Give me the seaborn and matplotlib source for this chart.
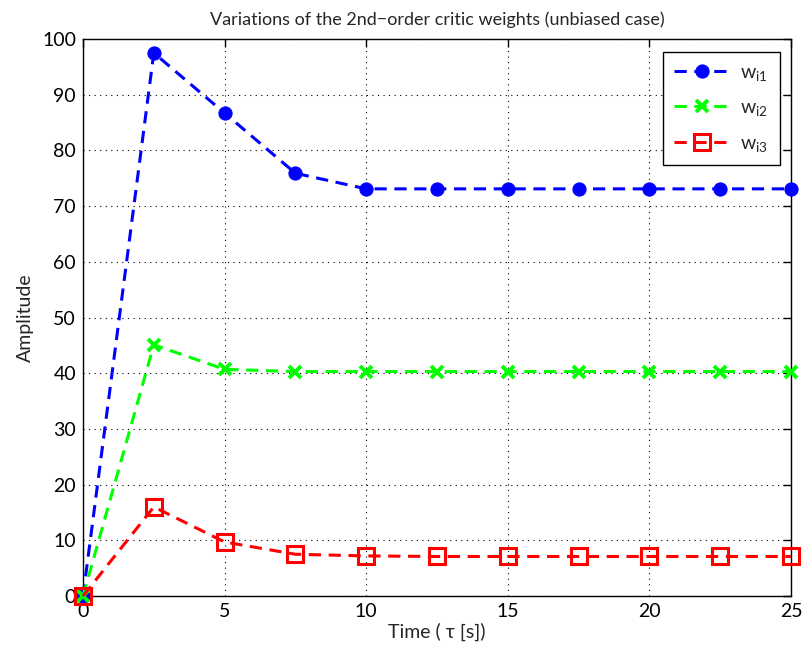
import matplotlib
matplotlib.use("Agg")
import matplotlib.pyplot as plt
import seaborn as sns
import pandas as pd

time = [0, 2.5, 5, 7.5, 10, 12.5, 15, 17.5, 20, 22.5, 25]
w_i1 = [0, 97.5, 86.7, 75.9, 73.1, 73.1, 73.1, 73.1, 73.1, 73.1, 73.1]
w_i2 = [0, 45.1, 40.7, 40.3, 40.3, 40.3, 40.3, 40.3, 40.3, 40.3, 40.3]
w_i3 = [0, 16.0, 9.7, 7.5, 7.2, 7.1, 7.1, 7.1, 7.1, 7.1, 7.1]
labels = [r"$\mathregular{w_{i1}}$", r"$\mathregular{w_{i2}}$", r"$\mathregular{w_{i3}}$"]
xticks = [0, 5, 10, 15, 20, 25]
yticks = list(range(0, 101, 10))

sns.set_theme(style="white")
plt.rcParams['font.family'] = ['Lato', 'DejaVu Sans']
plt.rcParams['mathtext.fontset'] = 'custom'
plt.rcParams['mathtext.rm'] = 'Lato'

fig = plt.figure(figsize=(8.02, 6.57), dpi=100)
ax = fig.add_axes([0.1035, 0.0928, 0.8828, 0.8478])

styles = [
    dict(color="#0000ff", marker="o", markersize=9.5, markerfacecolor="#0000ff", markeredgecolor="#0000ff"),
    dict(color="#00ff00", marker="x", markersize=8.5, markeredgewidth=2.8, markeredgecolor="#00ff00"),
    dict(color="#ff0000", marker="s", markersize=11, markerfacecolor="none", markeredgewidth=2.2, markeredgecolor="#ff0000"),
]
for vals, lab, st in zip([w_i1, w_i2, w_i3], labels, styles):
    df = pd.DataFrame({"t": time, "v": vals})
    sns.lineplot(data=df, x="t", y="v", ax=ax, label=lab, linewidth=2.2,
                 dashes=False, linestyle=(0, (4, 2.5)), clip_on=False, zorder=3, **st)

ax.set_xlim(0, 25)
ax.set_ylim(0, 100)
ax.set_xticks(xticks)
ax.set_yticks(yticks)
ax.grid(True, color="black", linestyle=(0, (1, 4)), linewidth=0.8)
for s in ax.spines.values():
    s.set_visible(True)
    s.set_color("black")
    s.set_linewidth(1.0)
ax.tick_params(direction="in", length=6, width=1, top=True, right=True,
               labelsize=14, colors="black", pad=5)
ax.set_xlabel("Time ( τ [s])", fontsize=14, labelpad=2)
ax.set_ylabel("Amplitude", fontsize=14, labelpad=6)
ax.set_title("Variations of the 2nd−order critic weights (unbiased case)", fontsize=13, pad=10)

leg = ax.legend(loc="upper right", fontsize=14, frameon=True, fancybox=False,
                edgecolor="black", framealpha=1, handlelength=2.8, borderpad=0.6,
                labelspacing=0.85, handletextpad=0.6, borderaxespad=0,
                bbox_to_anchor=(0.9845, 0.9767))
leg.get_frame().set_linewidth(1.0)

fig.savefig("out.png", dpi=100)
